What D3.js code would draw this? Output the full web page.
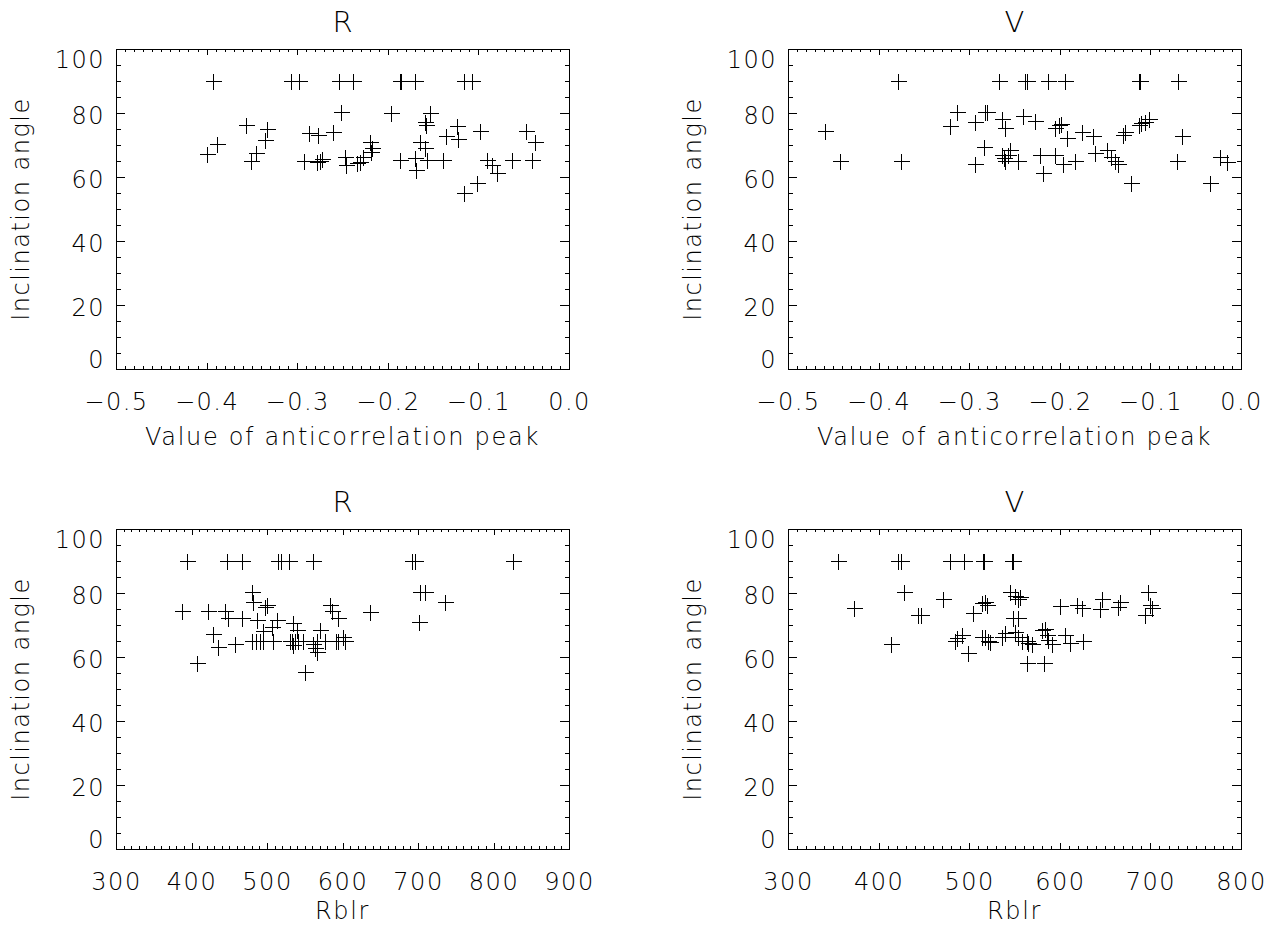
<!DOCTYPE html>
<meta charset="utf-8">
<script src="https://d3js.org/d3.v7.min.js"></script>
<style>
body { margin: 0; background: #fff; }
svg text { font-family: "DejaVu Sans", sans-serif; font-weight: 200; fill: #000; }
</style>
<div id="chart"></div>
<script>

// inclination angle vs. value of anticorrelation peak, R band
const rPeak = [
  [-0.393, 90], [-0.307, 90], [-0.298, 90], [-0.254, 90], [-0.238, 90], [-0.187, 90], [-0.185, 90],
  [-0.170, 90], [-0.116, 90], [-0.107, 90],
  [-0.252, 80.2], [-0.196, 80], [-0.153, 80], [-0.356, 76.2], [-0.333, 75.1], [-0.336, 71.5],
  [-0.389, 70.2], [-0.400, 67.2], [-0.346, 67.4], [-0.351, 65.1], [-0.287, 73.6], [-0.277, 73.1],
  [-0.260, 74.2], [-0.293, 65.1], [-0.278, 64.6], [-0.275, 65.1], [-0.273, 65.5], [-0.247, 66.1],
  [-0.246, 63.7], [-0.234, 64.3], [-0.231, 64.8], [-0.227, 66.3], [-0.219, 67.9], [-0.217, 69],
  [-0.220, 71], [-0.159, 77.3], [-0.158, 76.2], [-0.124, 76], [-0.136, 72.9], [-0.122, 71.9],
  [-0.098, 74.5], [-0.047, 74.5], [-0.038, 71], [-0.164, 71], [-0.159, 69], [-0.170, 65.8],
  [-0.169, 62.2], [-0.187, 65.3], [-0.157, 65.3], [-0.139, 65.3], [-0.091, 65.3], [-0.085, 63.7],
  [-0.080, 61.1], [-0.063, 65.3], [-0.041, 65.3], [-0.102, 58.2], [-0.116, 55.1]
];

// same, V band
const vPeak = [
  [-0.379, 90], [-0.267, 90], [-0.238, 90], [-0.236, 90], [-0.213, 90], [-0.194, 90], [-0.113, 90],
  [-0.111, 90], [-0.070, 90],
  [-0.459, 74.5], [-0.443, 65.1], [-0.375, 65.1], [-0.321, 75.9], [-0.314, 80.2], [-0.294, 77.1],
  [-0.283, 80.2], [-0.280, 80.2], [-0.264, 78.1], [-0.260, 75.2], [-0.284, 69.3], [-0.294, 64.1],
  [-0.264, 66.9], [-0.262, 65.8], [-0.260, 65.1], [-0.257, 66.9], [-0.255, 68.4], [-0.241, 79.1],
  [-0.227, 77.5], [-0.205, 75.2], [-0.201, 76.2], [-0.199, 76.7], [-0.192, 72.1], [-0.176, 74.2],
  [-0.163, 72.9], [-0.130, 73.1], [-0.128, 74.2], [-0.113, 76.2], [-0.110, 76.8], [-0.106, 77.3],
  [-0.102, 78.1], [-0.065, 72.9], [-0.246, 65.1], [-0.222, 66.9], [-0.218, 61.1], [-0.205, 66.9],
  [-0.196, 64.1], [-0.183, 65.1], [-0.161, 67.4], [-0.148, 68.4], [-0.143, 66.3], [-0.139, 65.1],
  [-0.136, 64.1], [-0.121, 58], [-0.071, 65.1], [-0.023, 66.3], [-0.016, 64.8], [-0.034, 58]
];

// inclination angle vs. Rblr, R band
const rBlr = [
  [393.6, 90], [446.6, 90], [466.5, 90], [515, 90], [518, 90], [529, 90], [561.3, 90], [691.6, 90],
  [696, 90], [826.2, 90],
  [479.7, 80.2], [481.9, 77.3], [499.6, 76.2], [497, 75.5], [387, 74.5], [422.3, 74.5], [444.4, 74.5],
  [448.8, 72.3], [466.5, 72.1], [486.3, 71.6], [512.8, 71.6], [506.2, 69.3], [495, 68.2], [534.8, 70.5],
  [539.3, 68.4], [428.9, 67.2], [435.5, 63], [457.6, 64.1], [406.9, 58.2], [550.3, 55.4],
  [479.7, 65.1], [485, 65.1], [490.7, 65.1], [495, 65.1], [507.5, 65.1], [530.5, 65.1], [533.5, 65.1],
  [537, 65.1], [541.5, 65.1], [548, 65.1], [565.8, 65.1], [576.8, 65.1], [591.4, 65.1], [594.4, 65.1],
  [603.3, 65.1], [535, 63.7], [561.3, 64.1], [563.6, 62.7], [565.8, 61.7], [570.2, 68.4],
  [583.4, 76.2], [585.7, 74.5], [594.4, 72.2], [601, 66.3], [636.4, 74.2], [702.6, 80.2],
  [709.3, 80.2], [735.8, 77.3], [701.7, 71]
];

// inclination angle vs. Rblr, V band
const vBlr = [
  [354.8, 90], [421.8, 90], [424.4, 90], [478.8, 90], [494.6, 90], [514.9, 90], [516.7, 90],
  [546.9, 90], [548.7, 90],
  [372.9, 75.2], [428.4, 80.2], [443.8, 73.2], [446.5, 73.2], [413.7, 64.1], [471.4, 78.1],
  [504.5, 73.6], [513.8, 76.8], [517.4, 77.3], [519.3, 76.2], [484.3, 65.1], [486.2, 65.8],
  [491.7, 66.9], [499, 61.1], [513.8, 66.3], [517.4, 66.1], [521.1, 65.1], [523, 64.8],
  [535.9, 66.3], [539.5, 67.4], [545, 80.2], [548.7, 72.1], [550.6, 79.2], [554.2, 78.1],
  [556, 78.9], [553.5, 72.1], [550.6, 67.9], [554.2, 66.3], [557.9, 65.1], [563.5, 65.1],
  [565.3, 64.3], [569, 64.1], [563.5, 58.2], [583, 58.2], [580, 68.4], [583.7, 68.9], [585.6, 66.9],
  [587.4, 65.3], [591.1, 64.1], [605.8, 66.9], [611.3, 64.3], [626, 65.1], [600.2, 75.9],
  [618.7, 76.2], [624.2, 75.2], [644.4, 74.9], [646.3, 78.1], [664.6, 75.5], [666.5, 77.3],
  [697.7, 80.2], [694, 73.1], [699.6, 76.2], [701.5, 75.2]
];

const peakTicks = [-0.5, -0.4, -0.3, -0.2, -0.1, 0.0];
const blrTicksR = [300, 400, 500, 600, 700, 800, 900];
const blrTicksV = [300, 400, 500, 600, 700, 800];
const angleTicks = [0, 20, 40, 60, 80, 100];

const width = 1273, height = 925;
const pw = 453, ph = 320; // plot box size

const svg = d3.select("#chart").append("svg")
    .attr("width", width)
    .attr("height", height);

// xlabY: baseline of the x title below the box (bottom row sits at the page edge)
const panels = [
  { title: "R", data: rPeak, ticks: peakTicks, minor: 0.01, fmt: d3.format(".1f"), xlab: "Value of anticorrelation peak", left: 116, top: 49, xlabY: 76 },
  { title: "V", data: vPeak, ticks: peakTicks, minor: 0.01, fmt: d3.format(".1f"), xlab: "Value of anticorrelation peak", left: 788, top: 49, xlabY: 76 },
  { title: "R", data: rBlr, ticks: blrTicksR, minor: 10, fmt: d3.format("d"), xlab: "Rblr", left: 116, top: 529, xlabY: 70 },
  { title: "V", data: vBlr, ticks: blrTicksV, minor: 10, fmt: d3.format("d"), xlab: "Rblr", left: 788, top: 529, xlabY: 70 }
];

panels.forEach(function(p) {
  const dom = [p.ticks[0], p.ticks[p.ticks.length - 1]];
  const x = d3.scaleLinear().domain(dom).range([0, pw]);
  const y = d3.scaleLinear().domain([0, 100]).range([ph, 0]);

  const nMinor = Math.round((dom[1] - dom[0]) / p.minor);
  const xMinor = d3.range(nMinor + 1).map(i => dom[0] + i * p.minor);
  const yMinor = d3.range(21).map(i => i * 5);

  const g = svg.append("g")
      .attr("transform", `translate(${p.left},${p.top})`)
      .attr("shape-rendering", "crispEdges");

  // box with inward ticks on all four sides (IDL style)
  function axisPart(axis, tx, ty) {
    return g.append("g")
        .attr("transform", `translate(${tx},${ty})`)
        .call(axis)
        .attr("font-family", null)
        .attr("font-size", 24);
  }
  axisPart(d3.axisBottom(x).tickValues(xMinor).tickSizeInner(-3).tickSizeOuter(0).tickFormat(""), 0, ph);
  const xAx = axisPart(d3.axisBottom(x).tickValues(p.ticks).tickSizeInner(-6).tickSizeOuter(0).tickFormat(p.fmt), 0, ph);
  axisPart(d3.axisTop(x).tickValues(xMinor).tickSizeInner(-3).tickSizeOuter(0).tickFormat(""), 0, 0);
  axisPart(d3.axisTop(x).tickValues(p.ticks).tickSizeInner(-6).tickSizeOuter(0).tickFormat(""), 0, 0);
  axisPart(d3.axisLeft(y).tickValues(yMinor).tickSizeInner(-4.5).tickSizeOuter(0).tickFormat(""), 0, 0);
  const yAx = axisPart(d3.axisLeft(y).tickValues(angleTicks).tickSizeInner(-9).tickSizeOuter(0).tickFormat(d3.format("d")), 0, 0);
  axisPart(d3.axisRight(y).tickValues(yMinor).tickSizeInner(-4.5).tickSizeOuter(0).tickFormat(""), pw, 0);
  axisPart(d3.axisRight(y).tickValues(angleTicks).tickSizeInner(-9).tickSizeOuter(0).tickFormat(""), pw, 0);

  g.selectAll(".domain, .tick line").attr("stroke", "#000");

  xAx.selectAll(".tick text")
      .attr("y", 41).attr("dy", null)
      .style("letter-spacing", "1.5px");

  // labels at the ends are kept inside the box
  yAx.selectAll(".tick text")
      .attr("x", -11).attr("dy", null)
      .attr("y", d => Math.min(Math.max(10, 18.5 - y(d)), ph - 2 - y(d)))
      .style("letter-spacing", "1.5px");

  g.append("text")
      .attr("x", pw / 2).attr("y", -17)
      .attr("text-anchor", "middle")
      .attr("font-size", 29)
      .text(p.title);

  g.append("text")
      .attr("x", pw / 2).attr("y", ph + p.xlabY)
      .attr("text-anchor", "middle")
      .attr("font-size", 24)
      .style("letter-spacing", "1.7px")
      .text(p.xlab);

  g.append("text")
      .attr("transform", `translate(-87,${ph / 2}) rotate(-90)`)
      .attr("text-anchor", "middle")
      .attr("font-size", 24)
      .style("letter-spacing", "1.5px")
      .text("Inclination angle");

  // plus-sign symbols
  g.selectAll("path.pt")
    .data(p.data)
    .join("path")
      .attr("class", "pt")
      .attr("d", d => {
        const cx = Math.round(x(d[0])) + 0.5, cy = Math.round(y(d[1])) + 0.5;
        return `M${cx - 8},${cy}H${cx + 8}M${cx},${cy - 8}V${cy + 8}`;
      })
      .attr("fill", "none")
      .attr("stroke", "#000")
      .attr("stroke-width", 1);
});

</script>
